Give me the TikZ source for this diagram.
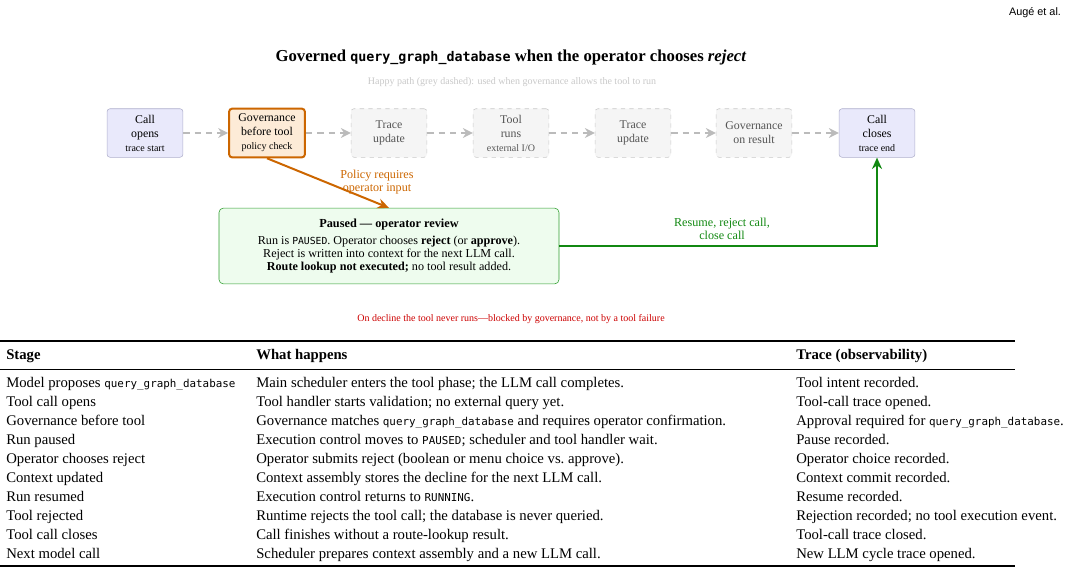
\documentclass[tikz,border=0pt]{standalone}
\usepackage{fontspec}
\setmainfont{Liberation Serif}
\setsansfont{Liberation Sans}
\setmonofont[Scale=0.74]{DejaVu Sans Mono}
\usepackage{tikz}
\usetikzlibrary{arrows.meta}
\definecolor{callfill}{HTML}{E9E9FB}
\definecolor{callrand}{HTML}{B0B0CC}
\definecolor{govfill}{HTML}{FDEBD7}
\definecolor{govorange}{HTML}{CC6600}
\definecolor{ghostfill}{HTML}{F5F5F5}
\definecolor{ghostrand}{HTML}{C8C8C8}
\definecolor{ghosttext}{HTML}{555555}
\definecolor{happy}{HTML}{BBBBBB}
\definecolor{pausefill}{HTML}{EEFCEE}
\definecolor{pausegreen}{HTML}{2E9E2E}
\definecolor{resume}{HTML}{118811}
\definecolor{decline}{HTML}{CC0000}
\newcommand{\qgd}{\texttt{query\_graph\_database}}

\begin{document}
\begin{tikzpicture}[x=0.7pt, y=-0.7pt,
  flowbox/.style={rounded corners=2pt, minimum width=53pt, minimum height=34pt,
    align=center, inner sep=1pt, font=\fontsize{8.3}{9.8}\selectfont},
  callbox/.style={flowbox, fill=callfill, draw=callrand, thin},
  govbox/.style={flowbox, fill=govfill, draw=govorange, line width=1.4pt},
  ghostbox/.style={flowbox, fill=ghostfill, draw=ghostrand, dashed, text=ghosttext},
  happyarrow/.style={draw=happy, line width=1pt, dash pattern=on 4.5pt off 3.5pt,
    -{Stealth[length=7pt,width=7pt]}},
  cell/.style={anchor=base west, inner sep=0pt, font=\fontsize{10.3}{12}\selectfont}
]
\useasboundingbox (0,0) rectangle (1072,574);

% Header and titles
\node[font=\sffamily\fontsize{7.6}{9}\selectfont, anchor=east] (kopf) at (1066,13) {Augé et al.};
\node[font=\bfseries\fontsize{11.7}{14}\selectfont] (titel) at (511,57)
  {Governed {\fontsize{12.6}{14}\selectfont\qgd} when the operator chooses \textit{reject}};
\node[font=\fontsize{7}{8}\selectfont, text=ghostrand] (happytext) at (512,82)
  {Happy path (grey dashed): used when governance allows the tool to run};

% Happy path row
\node[callbox] (open) at (145,133) {Call\\opens\\{\fontsize{7}{8}\selectfont trace start}};
\node[govbox] (gov) at (267,133) {Governance\\before tool\\{\fontsize{7}{8}\selectfont policy check}};
\node[ghostbox] (trace1) at (389,133) {Trace\\update};
\node[ghostbox] (tool) at (511,133) {Tool\\runs\\{\fontsize{7}{8}\selectfont external I/O}};
\node[ghostbox] (trace2) at (633,133) {Trace\\update};
\node[ghostbox] (govres) at (754,133) {Governance\\on result};
\node[callbox] (close) at (877,133) {Call\\closes\\{\fontsize{7}{8}\selectfont trace end}};

\draw[happyarrow] (open) -- (gov);
\draw[happyarrow] (gov) -- (trace1);
\draw[happyarrow] (trace1) -- (tool);
\draw[happyarrow] (tool) -- (trace2);
\draw[happyarrow] (trace2) -- (govres);
\draw[happyarrow] (govres) -- (close);

% Pause and decision
\node[rounded corners=3pt, fill=pausefill, draw=pausegreen, thin, minimum width=238pt,
  minimum height=53pt, align=center, font=\fontsize{8.5}{9.2}\selectfont] (paused) at (389,246)
  {\textbf{\fontsize{8.6}{10}\selectfont Paused --- operator review}\\[3pt]
   Run is {\fontsize{9.2}{9.2}\selectfont\texttt{PAUSED}}. Operator chooses \textbf{reject} (or \textbf{approve}).\\
   Reject is written into context for the next LLM call.\\
   \textbf{Route lookup not executed;} no tool result added.};

\draw[govorange, line width=1.4pt, -{Stealth[length=8pt,width=7pt]}] (gov.south) -- (paused.north);
\node[text=govorange, align=center, font=\fontsize{8.5}{9.3}\selectfont] (policy) at (377,182)
  {Policy requires\\operator input};

\draw[resume, line width=1.4pt, -{Stealth[length=8pt,width=7pt]}] (paused.east) -| (close.south);
\node[text=resume, align=center, font=\fontsize{8.5}{9.3}\selectfont] (resumetext) at (722,229)
  {Resume, reject call,\\close call};

\node[text=decline, font=\fontsize{7}{8}\selectfont] (note) at (511,319)
  {On decline the tool never runs---blocked by governance, not by a tool failure};

% Table
\draw[line width=0.9pt] (0,341) -- (1015,341);
\draw[line width=0.5pt] (0,369) -- (1015,369);
\draw[line width=0.9pt] (0,566) -- (1015,566);
\node[cell, font=\bfseries\fontsize{10.3}{12}\selectfont] (hstage) at (6,359) {Stage};
\node[cell, font=\bfseries\fontsize{10.3}{12}\selectfont] (hwhat) at (256,359) {What happens};
\node[cell, font=\bfseries\fontsize{10.3}{12}\selectfont] (htrace) at (796,359) {Trace (observability)};

\foreach \i/\stage/\what/\trace in {
  0/{Model proposes \qgd}/{Main scheduler enters the tool phase; the LLM call completes.}/{Tool intent recorded.},
  1/{Tool call opens}/{Tool handler starts validation; no external query yet.}/{Tool-call trace opened.},
  2/{Governance before tool}/{Governance matches \qgd\ and requires operator confirmation.}/{Approval required for \qgd.},
  3/{Run paused}/{Execution control moves to \texttt{PAUSED}; scheduler and tool handler wait.}/{Pause recorded.},
  4/{Operator chooses reject}/{Operator submits reject (boolean or menu choice vs.\ approve).}/{Operator choice recorded.},
  5/{Context updated}/{Context assembly stores the decline for the next LLM call.}/{Context commit recorded.},
  6/{Run resumed}/{Execution control returns to \texttt{RUNNING}.}/{Resume recorded.},
  7/{Tool rejected}/{Runtime rejects the tool call; the database is never queried.}/{Rejection recorded; no tool execution event.},
  8/{Tool call closes}/{Call finishes without a route-lookup result.}/{Tool-call trace closed.},
  9/{Next model call}/{Scheduler prepares context assembly and a new LLM call.}/{New LLM cycle trace opened.}
}{
  \node[cell] (stage\i) at (6,387+19*\i) {\stage};
  \node[cell] (what\i) at (256,387+19*\i) {\what};
  \node[cell] (trace\i) at (796,387+19*\i) {\trace};
}
\end{tikzpicture}
\end{document}
